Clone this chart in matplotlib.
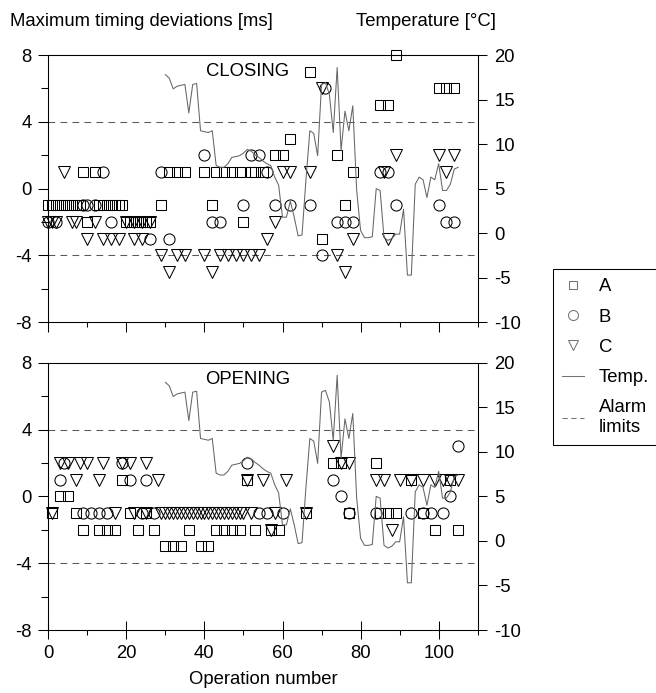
import matplotlib
matplotlib.use('Agg')
import matplotlib.pyplot as plt
from matplotlib.lines import Line2D
from matplotlib.ticker import MultipleLocator

plt.rcParams['font.family'] = 'Liberation Sans'
plt.rcParams['font.size'] = 13.3
plt.rcParams['axes.unicode_minus'] = False

# ambient temperature per operation [degC]
temp_ops = list(range(30, 106))
temp_vals = [17.8, 17.4, 16.2, 16.5, 16.6, 16.7, 13.5, 16.7, 16.8, 11.5,
             11.4, 11.3, 11.5, 7.6, 7.4, 7.4, 7.8, 8.5, 8.6, 8.7,
             9.0, 9.4, 9.2, 8.8, 8.5, 8.1, 7.8, 7.6, 6.3, 5.4,
             1.8, 1.8, 3.6, 1.8, -0.3, -0.2, 6.0, 11.5, 11.2, 8.7,
             16.7, 16.9, 15.6, 11.3, 18.6, 9.3, 13.7, 11.5, 14.3, 4.8,
             0.3, -0.5, -0.5, -0.4, 5.0, 4.8, -0.5, -0.8, -0.6, -0.1,
             -0.1, 2.7, -4.7, -4.7, 5.5, 6.3, 6.0, 4.0, 6.3, 6.0,
             7.8, 4.8, 4.8, 5.5, 7.2, 7.4]

# max timing deviation [ms] -> operation numbers, closing
close_a = {-1: [0, 1, 2, 3, 4, 5, 6, 7, 8, 13, 14, 15, 16, 17, 18, 19, 29, 42, 76],
           -2: [10, 20, 21, 22, 23, 24, 25, 26, 50],
           -3: [70],
           1: [9, 12, 31, 33, 35, 40, 43, 45, 47, 49, 52, 53, 55, 78],
           2: [58, 60, 74],
           3: [62],
           5: [85, 87],
           6: [100, 102, 104],
           7: [67],
           8: [89]}
close_b = {-1: [9, 10, 12, 50, 58, 62, 67, 89, 100],
           -2: [0, 2, 16, 42, 44, 74, 76, 78, 102, 104],
           -3: [26, 31],
           -4: [70],
           1: [14, 29, 56, 85, 87],
           2: [40, 52, 54],
           6: [71]}
close_c = {-2: [0, 1, 2, 6, 7, 12, 20, 22, 24, 26, 58],
           -3: [10, 14, 16, 18, 22, 24, 56, 78, 87],
           -4: [29, 33, 35, 40, 44, 46, 48, 50, 52, 54, 74],
           -5: [31, 42, 76],
           1: [4, 60, 62, 67, 86, 102],
           2: [89, 100, 104],
           6: [70]}

# opening
open_a = {0: [3, 5],
          -1: [1, 7, 21, 25, 66, 77, 85, 87, 89, 96],
          -2: [9, 13, 15, 17, 23, 27, 36, 43, 45, 47, 49, 53, 57, 59, 99, 105],
          -3: [30, 32, 34, 39, 41],
          1: [19, 51, 93, 103],
          2: [73, 75, 84]}
open_b = {3: [105],
          2: [4, 19, 51],
          1: [3, 21, 25, 73],
          0: [75, 103],
          -1: [9, 11, 13, 15, 24, 27, 54, 56, 60, 77, 84, 93, 96, 98, 101]}
open_c = {3: [73],
          2: [3, 5, 8, 10, 14, 19, 21, 25, 75, 77],
          1: [7, 13, 28, 51, 55, 61, 84, 86, 90, 93, 96, 99, 101, 103, 105],
          -1: [1, 17, 22, 25] + list(range(29, 51)) + [52, 58, 66],
          -2: [57, 88]}

alarm = [4, -4]

# marker, size for A, B, C
styles = [('s', 7.0), ('o', 8.0), ('v', 8.2)]


def flatten(rows):
    xs, ys = [], []
    for ms, ops in rows.items():
        xs += ops
        ys += [ms] * len(ops)
    return xs, ys


def draw_panel(ax, a, b, c, title, bottom):
    for rows, (mk, size) in zip([a, b, c], styles):
        x, y = flatten(rows)
        ax.plot(x, y, ls='none', marker=mk, ms=size, mfc='none', mec='k',
                mew=0.75, clip_on=False, zorder=3)
    for lim in alarm:
        ax.axhline(lim, color='0.35', lw=0.75, dashes=(6.5, 5))
    ax.set_xlim(0, 110)
    ax.set_ylim(-8, 8)
    ax.xaxis.set_major_locator(MultipleLocator(20))
    ax.xaxis.set_minor_locator(MultipleLocator(10))
    ax.yaxis.set_major_locator(MultipleLocator(4))
    ax.yaxis.set_minor_locator(MultipleLocator(2))
    ax.tick_params(axis='y', which='major', direction='out', length=7, width=0.75, pad=5)
    ax.tick_params(axis='y', which='minor', direction='out', length=5, width=0.75)
    if bottom:
        ax.tick_params(axis='x', which='major', direction='inout', length=13, width=0.75, pad=4)
    else:
        ax.tick_params(axis='x', which='major', direction='out', length=7, width=0.75,
                       labelbottom=False)
    ax.tick_params(axis='x', which='minor', direction='out', length=3.5, width=0.75)
    for s in ax.spines.values():
        s.set_linewidth(0.75)
    ax.text(51, 7, title, ha='center', va='center')

    tw = ax.twinx()
    tw.plot(temp_ops, temp_vals, color='0.4', lw=0.75)
    tw.set_ylim(-10, 20)
    tw.yaxis.set_major_locator(MultipleLocator(5))
    tw.tick_params(axis='y', direction='out', length=6.5, width=0.75, pad=5.5)
    for s in tw.spines.values():
        s.set_linewidth(0.75)


fig = plt.figure(figsize=(6.56, 6.93), dpi=100)
ax_top = fig.add_axes([0.0736, 0.5349, 0.6546, 0.3857])
ax_bot = fig.add_axes([0.0736, 0.0909, 0.6546, 0.3857])

draw_panel(ax_top, close_a, close_b, close_c, 'CLOSING', False)
draw_panel(ax_bot, open_a, open_b, open_c, 'OPENING', True)

ax_bot.set_xlabel('Operation number', labelpad=7)

fig.text(10 / 656, 1 - 22 / 693, 'Maximum timing deviations [ms]', ha='left', va='center')
fig.text(356 / 656, 1 - 22 / 693, 'Temperature [\u00b0C]', ha='left', va='center')

handles = [Line2D([], [], ls='none', marker=mk, ms=size * 0.9, mfc='none', mec='0.45', mew=0.75)
           for mk, size in styles]
handles += [Line2D([], [], color='0.45', lw=0.75),
            Line2D([], [], color='0.45', lw=0.75, dashes=(5, 3.5))]
labels = ['A', 'B', 'C', 'Temp.', 'Alarm\nlimits']
leg = fig.legend(handles, labels, loc='upper left', bbox_to_anchor=(552.7 / 656, 1 - 269 / 693),
                 frameon=True, fancybox=False, edgecolor='k', framealpha=1,
                 borderpad=0.5, handlelength=1.2, handletextpad=0.8, labelspacing=0.72,
                 borderaxespad=0)
leg.get_frame().set_linewidth(0.75)

fig.savefig('out.png', dpi=100)
